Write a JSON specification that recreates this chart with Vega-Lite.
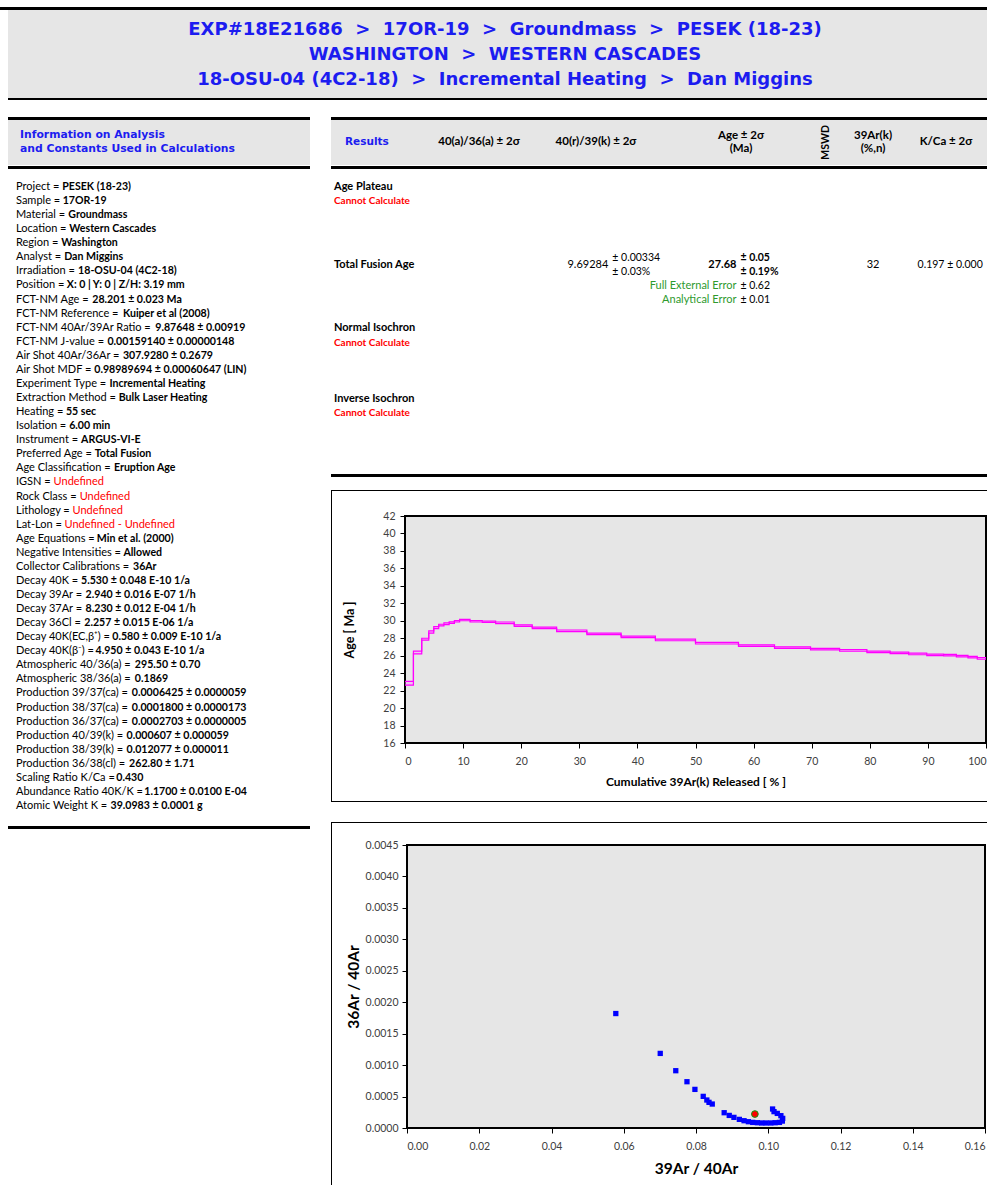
{
"$schema": "https://vega.github.io/schema/vega-lite/v6.json",
"padding": 0,
"background": "white",
"config": {
  "view": {"stroke": null},
  "concat": {"spacing": 0},
  "axis": {"domain": false, "grid": false, "tickColor": "#000000", "tickSize": 5, "tickWidth": 1, "labelFont": "Lato", "labelFontSize": 10.5, "labelColor": "#404040", "titleFont": "Lato", "titleFontWeight": "bold", "titleColor": "#000000", "labelOverlap": false}
},
"datasets": {
  "header": [
    {"line": 1, "t": "EXP#18E21686\u00a0 >\u00a0 17OR-19\u00a0 >\u00a0 Groundmass\u00a0 >\u00a0 PESEK (18-23)"},
    {"line": 2, "t": "WASHINGTON\u00a0 >\u00a0 WESTERN CASCADES"},
    {"line": 3, "t": "18-OSU-04 (4C2-18)\u00a0 >\u00a0 Incremental Heating\u00a0 >\u00a0 Dan Miggins"}
  ],
  "infohead": [
    {"line": 1, "t": "Information on Analysis"},
    {"line": 2, "t": "and Constants Used in Calculations"}
  ],
  "info": [
    {"line": 1, "label": "Project =", "value": "PESEK (18-23)"},
    {"line": 2, "label": "Sample =", "value": "17OR-19"},
    {"line": 3, "label": "Material =", "value": "Groundmass"},
    {"line": 4, "label": "Location =", "value": "Western Cascades"},
    {"line": 5, "label": "Region =", "value": "Washington"},
    {"line": 6, "label": "Analyst =", "value": "Dan Miggins"},
    {"line": 7, "label": "Irradiation =", "value": "18-OSU-04 (4C2-18)"},
    {"line": 8, "label": "Position =", "value": "X: 0 | Y: 0 | Z/H: 3.19 mm"},
    {"line": 9, "label": "FCT-NM Age =", "value": "28.201 ± 0.023 Ma"},
    {"line": 10, "label": "FCT-NM Reference =", "value": "Kuiper et al (2008)"},
    {"line": 11, "label": "FCT-NM 40Ar/39Ar Ratio =", "value": "9.87648 ± 0.00919"},
    {"line": 12, "label": "FCT-NM J-value =", "value": "0.00159140 ± 0.00000148"},
    {"line": 13, "label": "Air Shot 40Ar/36Ar =", "value": "307.9280 ± 0.2679"},
    {"line": 14, "label": "Air Shot MDF =", "value": "0.98989694 ± 0.00060647 (LIN)"},
    {"line": 15, "label": "Experiment Type =", "value": "Incremental Heating"},
    {"line": 16, "label": "Extraction Method =", "value": "Bulk Laser Heating"},
    {"line": 17, "label": "Heating =", "value": "55 sec"},
    {"line": 18, "label": "Isolation =", "value": "6.00 min"},
    {"line": 19, "label": "Instrument =", "value": "ARGUS-VI-E"},
    {"line": 20, "label": "Preferred Age =", "value": "Total Fusion"},
    {"line": 21, "label": "Age Classification =", "value": "Eruption Age"},
    {"line": 22, "label": "IGSN =", "value": "Undefined"},
    {"line": 23, "label": "Rock Class =", "value": "Undefined"},
    {"line": 24, "label": "Lithology =", "value": "Undefined"},
    {"line": 25, "label": "Lat-Lon =", "value": "Undefined - Undefined"},
    {"line": 26, "label": "Age Equations =", "value": "Min et al. (2000)"},
    {"line": 27, "label": "Negative Intensities =", "value": "Allowed"},
    {"line": 28, "label": "Collector Calibrations =", "value": "36Ar"},
    {"line": 29, "label": "Decay 40K =", "value": "5.530 ± 0.048 E-10 1/a"},
    {"line": 30, "label": "Decay 39Ar =", "value": "2.940 ± 0.016 E-07 1/h"},
    {"line": 31, "label": "Decay 37Ar =", "value": "8.230 ± 0.012 E-04 1/h"},
    {"line": 32, "label": "Decay 36Cl =", "value": "2.257 ± 0.015 E-06 1/a"},
    {"line": 33, "label": "Decay 40K(EC,β⁺) =", "value": "0.580 ± 0.009 E-10 1/a"},
    {"line": 34, "label": "Decay 40K(β⁻) =", "value": "4.950 ± 0.043 E-10 1/a"},
    {"line": 35, "label": "Atmospheric 40/36(a) =", "value": "295.50 ± 0.70"},
    {"line": 36, "label": "Atmospheric 38/36(a) =", "value": "0.1869"},
    {"line": 37, "label": "Production 39/37(ca) =", "value": "0.0006425 ± 0.0000059"},
    {"line": 38, "label": "Production 38/37(ca) =", "value": "0.0001800 ± 0.0000173"},
    {"line": 39, "label": "Production 36/37(ca) =", "value": "0.0002703 ± 0.0000005"},
    {"line": 40, "label": "Production 40/39(k) =", "value": "0.000607 ± 0.000059"},
    {"line": 41, "label": "Production 38/39(k) =", "value": "0.012077 ± 0.000011"},
    {"line": 42, "label": "Production 36/38(cl) =", "value": "262.80 ± 1.71"},
    {"line": 43, "label": "Scaling Ratio K/Ca =", "value": "0.430"},
    {"line": 44, "label": "Abundance Ratio 40K/K =", "value": "1.1700 ± 0.0100 E-04"},
    {"line": 45, "label": "Atomic Weight K =", "value": "39.0983 ± 0.0001 g"}
  ],
  "reshead": [
    {"c": 0, "r": 1, "t": "Results"},
    {"c": 1, "r": 1, "t": "40(a)/36(a) ± 2σ"},
    {"c": 2, "r": 1, "t": "40(r)/39(k) ± 2σ"},
    {"c": 3, "r": 0, "t": "Age ± 2σ"},
    {"c": 3, "r": 2, "t": "(Ma)"},
    {"c": 4, "r": 1, "t": "MSWD"},
    {"c": 5, "r": 0, "t": "39Ar(k)"},
    {"c": 5, "r": 2, "t": "(%,n)"},
    {"c": 6, "r": 1, "t": "K/Ca ± 2σ"}
  ],
  "results": [
    {"c": 0, "r": 0, "part": "section", "t": "Age Plateau"},
    {"c": 0, "r": 2, "part": "status", "t": "Cannot Calculate"},
    {"c": 0, "r": 11, "part": "section", "t": "Total Fusion Age"},
    {"c": 2, "r": 11, "part": "value", "t": "9.69284"},
    {"c": 2, "r": 10, "part": "err", "t": "± 0.00334"},
    {"c": 2, "r": 12, "part": "err", "t": "± 0.03%"},
    {"c": 3, "r": 11, "part": "age", "t": "27.68"},
    {"c": 3, "r": 10, "part": "ageerr", "t": "± 0.05"},
    {"c": 3, "r": 12, "part": "ageerr", "t": "± 0.19%"},
    {"c": 3, "r": 14, "part": "note", "t": "Full External Error"},
    {"c": 3, "r": 14, "part": "err", "t": "± 0.62"},
    {"c": 3, "r": 16, "part": "note", "t": "Analytical Error"},
    {"c": 3, "r": 16, "part": "err", "t": "± 0.01"},
    {"c": 5, "r": 11, "part": "count", "t": "32"},
    {"c": 6, "r": 11, "part": "kca", "t": "0.197 ± 0.000"},
    {"c": 0, "r": 20, "part": "section", "t": "Normal Isochron"},
    {"c": 0, "r": 22, "part": "status", "t": "Cannot Calculate"},
    {"c": 0, "r": 30, "part": "section", "t": "Inverse Isochron"},
    {"c": 0, "r": 32, "part": "status", "t": "Cannot Calculate"}
  ],
  "frame_spectrum": [
    {"xmin": 0, "xmax": 100, "ymin": 16, "ymax": 42}
  ],
  "frame_iso": [
    {"xmin": 0, "xmax": 0.16, "ymin": 0, "ymax": 0.0045}
  ],
  "spectrum": [
    {"cum": 0, "lo": 22.64, "hi": 23.05},
    {"cum": 1.45, "lo": 26.21, "hi": 26.52},
    {"cum": 2.88, "lo": 27.78, "hi": 28.0},
    {"cum": 4.09, "lo": 28.58, "hi": 28.85},
    {"cum": 4.95, "lo": 29.1, "hi": 29.34},
    {"cum": 5.8, "lo": 29.42, "hi": 29.6},
    {"cum": 6.7, "lo": 29.55, "hi": 29.75},
    {"cum": 7.6, "lo": 29.7, "hi": 29.88},
    {"cum": 8.5, "lo": 29.86, "hi": 30.02},
    {"cum": 9.4, "lo": 30.0, "hi": 30.17},
    {"cum": 11.2, "lo": 29.86, "hi": 30.02},
    {"cum": 13.3, "lo": 29.8, "hi": 29.96},
    {"cum": 15.6, "lo": 29.68, "hi": 29.86},
    {"cum": 18.8, "lo": 29.36, "hi": 29.54},
    {"cum": 21.9, "lo": 29.1, "hi": 29.28},
    {"cum": 26.1, "lo": 28.76, "hi": 28.94},
    {"cum": 31.3, "lo": 28.41, "hi": 28.59},
    {"cum": 37.2, "lo": 28.07, "hi": 28.25},
    {"cum": 43.1, "lo": 27.71, "hi": 27.89},
    {"cum": 50.0, "lo": 27.34, "hi": 27.52},
    {"cum": 57.4, "lo": 27.07, "hi": 27.25},
    {"cum": 63.6, "lo": 26.84, "hi": 27.02},
    {"cum": 69.8, "lo": 26.66, "hi": 26.84},
    {"cum": 74.8, "lo": 26.51, "hi": 26.69},
    {"cum": 79.5, "lo": 26.35, "hi": 26.53},
    {"cum": 83.5, "lo": 26.24, "hi": 26.42},
    {"cum": 86.7, "lo": 26.11, "hi": 26.29},
    {"cum": 89.8, "lo": 26.01, "hi": 26.19},
    {"cum": 92.7, "lo": 25.97, "hi": 26.15},
    {"cum": 94.9, "lo": 25.86, "hi": 26.04},
    {"cum": 96.9, "lo": 25.75, "hi": 25.93},
    {"cum": 98.5, "lo": 25.59, "hi": 25.77},
    {"cum": 100, "lo": 25.59, "hi": 25.77}
  ],
  "iso": [
    {"ar39_40": 0.0578, "ar36_40": 0.00182},
    {"ar39_40": 0.0701, "ar36_40": 0.001186},
    {"ar39_40": 0.0744, "ar36_40": 0.000911},
    {"ar39_40": 0.0775, "ar36_40": 0.000736},
    {"ar39_40": 0.0797, "ar36_40": 0.000614},
    {"ar39_40": 0.082, "ar36_40": 0.000503},
    {"ar39_40": 0.083, "ar36_40": 0.000445},
    {"ar39_40": 0.0836, "ar36_40": 0.000408},
    {"ar39_40": 0.0845, "ar36_40": 0.000381},
    {"ar39_40": 0.0878, "ar36_40": 0.000243},
    {"ar39_40": 0.0892, "ar36_40": 0.0002},
    {"ar39_40": 0.0905, "ar36_40": 0.000169},
    {"ar39_40": 0.092, "ar36_40": 0.000137},
    {"ar39_40": 0.0933, "ar36_40": 0.000116},
    {"ar39_40": 0.0945, "ar36_40": 0.0001},
    {"ar39_40": 0.0957, "ar36_40": 0.000089},
    {"ar39_40": 0.097, "ar36_40": 0.000084},
    {"ar39_40": 0.0982, "ar36_40": 0.00008},
    {"ar39_40": 0.0994, "ar36_40": 0.00008},
    {"ar39_40": 0.1007, "ar36_40": 0.00008},
    {"ar39_40": 0.1019, "ar36_40": 0.000084},
    {"ar39_40": 0.1031, "ar36_40": 0.000089},
    {"ar39_40": 0.1039, "ar36_40": 0.00011},
    {"ar39_40": 0.104, "ar36_40": 0.000153},
    {"ar39_40": 0.1035, "ar36_40": 0.000196},
    {"ar39_40": 0.1025, "ar36_40": 0.000232},
    {"ar39_40": 0.1016, "ar36_40": 0.00026},
    {"ar39_40": 0.1012, "ar36_40": 0.000302}
  ],
  "fusion": [
    {"ar39_40": 0.0963, "ar36_40": 0.000222}
  ]
},
"spacing": 0,
"vconcat": [
  {"width": 987, "height": 7, "view": {"fill": "#ffffff", "stroke": null}, "data": {"values": []}, "mark": "rect", "encoding": {}},
  {"width": 987, "height": 3, "view": {"fill": "#000000", "stroke": null}, "data": {"values": []}, "mark": "rect", "encoding": {}},
  {"spacing": 0, "hconcat": [
    {"width": 8, "height": 90, "view": {"fill": "#ffffff", "stroke": null}, "data": {"values": []}, "mark": "rect", "encoding": {}},
    {"spacing": 0, "vconcat": [
      {"width": 979, "height": 88, "view": {"fill": "#e6e6e6", "stroke": null},
       "data": {"name": "header"},
       "mark": {"type": "text", "align": "center", "baseline": "middle", "dx": 7.5, "font": "DejaVu Sans", "fontWeight": "bold", "fontSize": 18, "fill": "#1c1cf0"},
       "encoding": {
         "y": {"field": "line", "type": "quantitative", "scale": {"domain": [1, 3], "range": [19.5, 70], "nice": false, "zero": false}, "axis": null},
         "text": {"field": "t"}
       }},
      {"width": 979, "height": 2, "view": {"fill": "#000000", "stroke": null}, "data": {"values": []}, "mark": "rect", "encoding": {}}
    ]}
  ]},
  {"spacing": 0, "hconcat": [
    {"width": 8, "height": 1085, "view": {"fill": "#ffffff", "stroke": null}, "data": {"values": []}, "mark": "rect", "encoding": {}},
    {"spacing": 0, "vconcat": [
      {"width": 302, "height": 17, "view": {"fill": "#ffffff", "stroke": null}, "data": {"values": []}, "mark": "rect", "encoding": {}},
      {"width": 302, "height": 3, "view": {"fill": "#000000", "stroke": null}, "data": {"values": []}, "mark": "rect", "encoding": {}},
      {"width": 302, "height": 45, "view": {"fill": "#e6e6e6", "stroke": null},
       "data": {"name": "infohead"},
       "mark": {"type": "text", "align": "left", "baseline": "middle", "dx": 12, "font": "DejaVu Sans", "fontWeight": "bold", "fontSize": 10.8, "fill": "#1c1cf0"},
       "encoding": {
         "x": {"datum": 0, "type": "quantitative", "scale": {"domain": [0, 1]}, "axis": null},
         "y": {"field": "line", "type": "quantitative", "scale": {"domain": [1, 2], "range": [15, 29.3], "nice": false, "zero": false}, "axis": null},
         "text": {"field": "t"}
       }},
      {"width": 302, "height": 1, "view": {"fill": "#ffffff", "stroke": null}, "data": {"values": []}, "mark": "rect", "encoding": {}},
      {"width": 302, "height": 3, "view": {"fill": "#000000", "stroke": null}, "data": {"values": []}, "mark": "rect", "encoding": {}},
      {"width": 302, "height": 657, "view": {"fill": "#ffffff", "stroke": null},
       "data": {"name": "info"},
       "encoding": {
         "x": {"datum": 0, "type": "quantitative", "scale": {"domain": [0, 1]}, "axis": null},
         "y": {"field": "line", "type": "quantitative", "scale": {"domain": [1, 45], "range": [18, 637], "nice": false, "zero": false}, "axis": null}
       },
       "layer": [
         {"mark": {"type": "text", "align": "left", "baseline": "middle", "dx": 8, "font": "Lato", "fontSize": 11, "fill": "#000000"},
          "encoding": {"text": {"field": "label"}}},
         {"transform": [{"filter": "indexof(datum.value, 'Undefined') < 0"}],
          "mark": {"type": "text", "align": "left", "baseline": "middle", "font": "Lato", "fontWeight": "bold", "fontSize": 10.6, "fill": "#000000",
                   "dx": {"expr": "8 + 0.0057*(1350*length(replace(datum.label,regexp('[^ACV]','g'),'')) + 1505*length(replace(datum.label,regexp('[^DHN]','g'),'')) + 1442*length(replace(datum.label,regexp('[^GU]','g'),'')) + 1614*length(replace(datum.label,regexp('[^OQ]','g'),'')) + 1130*length(replace(datum.label,regexp('[^EFPTZ]','g'),'')) + 1265*length(replace(datum.label,regexp('[^BKRXY]','g'),'')) + 576*length(replace(datum.label,regexp('[^I]','g'),'')) + 780*length(replace(datum.label,regexp('[^J]','g'),'')) + 976*length(replace(datum.label,regexp('[^L]','g'),'')) + 1826*length(replace(datum.label,regexp('[^M]','g'),'')) + 2040*length(replace(datum.label,regexp('[^W]','g'),'')) + 1036*length(replace(datum.label,regexp('[^S]','g'),'')) + 1075*length(replace(datum.label,regexp('[^bdhnopqu]','g'),'')) + 990*length(replace(datum.label,regexp('[^egkvxy]','g'),'')) + 960*length(replace(datum.label,regexp('[^acz]','g'),'')) + 490*length(replace(datum.label,regexp('[^ijl]','g'),'')) + 720*length(replace(datum.label,regexp('[^frt]','g'),'')) + 830*length(replace(datum.label,regexp('[^s]','g'),'')) + 1608*length(replace(datum.label,regexp('[^m]','g'),'')) + 1494*length(replace(datum.label,regexp('[^w]','g'),'')) + 1160*length(replace(datum.label,regexp('[^0-9=]','g'),'')) + 386*length(replace(datum.label,regexp('[^ ]','g'),'')) + 620*length(replace(datum.label,regexp('[^()]','g'),'')) + 700*length(replace(datum.label,regexp('[^/-]','g'),'')) + 460*length(replace(datum.label,regexp('[^.,:]','g'),'')) + 650*length(replace(datum.label,regexp('[A-Za-z0-9=() /.,:-]','g'),'')) + 486)"}},
          "encoding": {"text": {"field": "value"}}},
         {"transform": [{"filter": "indexof(datum.value, 'Undefined') >= 0"}],
          "mark": {"type": "text", "align": "left", "baseline": "middle", "font": "Lato", "fontSize": 11, "fill": "#ff0000",
                   "dx": {"expr": "8 + 0.0057*(1350*length(replace(datum.label,regexp('[^ACV]','g'),'')) + 1505*length(replace(datum.label,regexp('[^DHN]','g'),'')) + 1442*length(replace(datum.label,regexp('[^GU]','g'),'')) + 1614*length(replace(datum.label,regexp('[^OQ]','g'),'')) + 1130*length(replace(datum.label,regexp('[^EFPTZ]','g'),'')) + 1265*length(replace(datum.label,regexp('[^BKRXY]','g'),'')) + 576*length(replace(datum.label,regexp('[^I]','g'),'')) + 780*length(replace(datum.label,regexp('[^J]','g'),'')) + 976*length(replace(datum.label,regexp('[^L]','g'),'')) + 1826*length(replace(datum.label,regexp('[^M]','g'),'')) + 2040*length(replace(datum.label,regexp('[^W]','g'),'')) + 1036*length(replace(datum.label,regexp('[^S]','g'),'')) + 1075*length(replace(datum.label,regexp('[^bdhnopqu]','g'),'')) + 990*length(replace(datum.label,regexp('[^egkvxy]','g'),'')) + 960*length(replace(datum.label,regexp('[^acz]','g'),'')) + 490*length(replace(datum.label,regexp('[^ijl]','g'),'')) + 720*length(replace(datum.label,regexp('[^frt]','g'),'')) + 830*length(replace(datum.label,regexp('[^s]','g'),'')) + 1608*length(replace(datum.label,regexp('[^m]','g'),'')) + 1494*length(replace(datum.label,regexp('[^w]','g'),'')) + 1160*length(replace(datum.label,regexp('[^0-9=]','g'),'')) + 386*length(replace(datum.label,regexp('[^ ]','g'),'')) + 620*length(replace(datum.label,regexp('[^()]','g'),'')) + 700*length(replace(datum.label,regexp('[^/-]','g'),'')) + 460*length(replace(datum.label,regexp('[^.,:]','g'),'')) + 650*length(replace(datum.label,regexp('[A-Za-z0-9=() /.,:-]','g'),'')) + 486)"}},
          "encoding": {"text": {"field": "value"}}}
       ]},
      {"width": 302, "height": 3, "view": {"fill": "#000000", "stroke": null}, "data": {"values": []}, "mark": "rect", "encoding": {}}
    ]},
    {"width": 21, "height": 1085, "view": {"fill": "#ffffff", "stroke": null}, "data": {"values": []}, "mark": "rect", "encoding": {}},
    {"spacing": 0, "vconcat": [
      {"width": 656, "height": 17, "view": {"fill": "#ffffff", "stroke": null}, "data": {"values": []}, "mark": "rect", "encoding": {}},
      {"width": 656, "height": 3, "view": {"fill": "#000000", "stroke": null}, "data": {"values": []}, "mark": "rect", "encoding": {}},
      {"width": 656, "height": 45, "view": {"fill": "#e6e6e6", "stroke": null},
       "data": {"name": "reshead"},
       "encoding": {
         "x": {"field": "c", "type": "quantitative", "scale": {"domain": [0, 1, 2, 3, 4, 5, 6], "range": [14, 148, 265, 410, 495, 542, 615], "nice": false, "zero": false}, "axis": null},
         "y": {"field": "r", "type": "quantitative", "scale": {"domain": [0, 2], "range": [15.7, 29], "nice": false, "zero": false}, "axis": null},
         "text": {"field": "t"}
       },
       "layer": [
         {"transform": [{"filter": "datum.c == 0"}],
          "mark": {"type": "text", "align": "left", "baseline": "middle", "font": "DejaVu Sans", "fontWeight": "bold", "fontSize": 10.5, "fill": "#1c1cf0"}},
         {"transform": [{"filter": "datum.c == 4"}],
          "mark": {"type": "text", "align": "center", "baseline": "middle", "angle": 270, "font": "Lato", "fontWeight": "bold", "fontSize": 10.5, "fill": "#000000"}},
         {"transform": [{"filter": "datum.c != 0 && datum.c != 4"}],
          "mark": {"type": "text", "align": "center", "baseline": "middle", "font": "Lato", "fontWeight": "bold", "fontSize": 11.5, "fill": "#000000"}}
       ]},
      {"width": 656, "height": 1, "view": {"fill": "#ffffff", "stroke": null}, "data": {"values": []}, "mark": "rect", "encoding": {}},
      {"width": 656, "height": 3, "view": {"fill": "#000000", "stroke": null}, "data": {"values": []}, "mark": "rect", "encoding": {}},
      {"width": 656, "height": 305, "view": {"fill": "#ffffff", "stroke": null},
       "data": {"name": "results"},
       "encoding": {
         "x": {"field": "c", "type": "quantitative", "scale": {"domain": [0, 2, 3, 5, 6], "range": [3, 279.3, 407.5, 542, 586.6], "nice": false, "zero": false}, "axis": null},
         "y": {"field": "r", "type": "quantitative", "scale": {"domain": [0, 32], "range": [18, 244.3], "nice": false, "zero": false}, "axis": null},
         "text": {"field": "t"}
       },
       "layer": [
         {"transform": [{"filter": "datum.part == 'section'"}],
          "mark": {"type": "text", "align": "left", "baseline": "middle", "font": "Lato", "fontWeight": "bold", "fontSize": 11, "fill": "#000000"}},
         {"transform": [{"filter": "datum.part == 'status'"}],
          "mark": {"type": "text", "align": "left", "baseline": "middle", "font": "Lato", "fontWeight": "bold", "fontSize": 10, "fill": "#ff0000"}},
         {"transform": [{"filter": "datum.part == 'value'"}],
          "mark": {"type": "text", "align": "right", "baseline": "middle", "dx": -2, "font": "Lato", "fontSize": 11, "fill": "#000000"}},
         {"transform": [{"filter": "datum.part == 'age'"}],
          "mark": {"type": "text", "align": "right", "baseline": "middle", "dx": -2, "font": "Lato", "fontWeight": "bold", "fontSize": 11, "fill": "#000000"}},
         {"transform": [{"filter": "datum.part == 'err'"}],
          "mark": {"type": "text", "align": "left", "baseline": "middle", "dx": 2, "font": "Lato", "fontSize": 10.5, "fill": "#000000"}},
         {"transform": [{"filter": "datum.part == 'ageerr'"}],
          "mark": {"type": "text", "align": "left", "baseline": "middle", "dx": 2, "font": "Lato", "fontWeight": "bold", "fontSize": 10.5, "fill": "#000000"}},
         {"transform": [{"filter": "datum.part == 'note'"}],
          "mark": {"type": "text", "align": "right", "baseline": "middle", "dx": -2, "font": "Lato", "fontSize": 11, "fill": "#2e9a2e"}},
         {"transform": [{"filter": "datum.part == 'count'"}],
          "mark": {"type": "text", "align": "center", "baseline": "middle", "font": "Lato", "fontSize": 11, "fill": "#000000"}},
         {"transform": [{"filter": "datum.part == 'kca'"}],
          "mark": {"type": "text", "align": "left", "baseline": "middle", "font": "Lato", "fontSize": 10.5, "fill": "#000000"}}
       ]},
      {"width": 656, "height": 3, "view": {"fill": "#000000", "stroke": null}, "data": {"values": []}, "mark": "rect", "encoding": {}},
      {"width": 656, "height": 13, "view": {"fill": "#ffffff", "stroke": null}, "data": {"values": []}, "mark": "rect", "encoding": {}},
      {"spacing": 0, "vconcat": [
        {"width": 656, "height": 1, "view": {"fill": "#000000", "stroke": null}, "data": {"values": []}, "mark": "rect", "encoding": {}},
        {"spacing": 0, "hconcat": [
          {"width": 1, "height": 310, "view": {"fill": "#000000", "stroke": null}, "data": {"values": []}, "mark": "rect", "encoding": {}},
          {"width": 655, "height": 310, "view": {"fill": "#ffffff", "stroke": null},
           "layer": [
             {"data": {"name": "frame_spectrum"},
              "mark": {"type": "rect", "fill": "#e6e6e6", "stroke": "#000000", "strokeWidth": 2},
              "encoding": {
                "x": {"field": "xmin", "type": "quantitative", "scale": {"domain": [0, 100], "range": [73, 654], "nice": false, "zero": false},
                      "axis": {"title": "Cumulative 39Ar(k) Released [ % ]", "values": [0, 10, 20, 30, 40, 50, 60, 70, 80, 90, 100], "labelFlush": true, "labelPadding": 8, "titleFontSize": 12, "titlePadding": 10, "offset": -58}},
                "x2": {"field": "xmax"},
                "y": {"field": "ymin", "type": "quantitative", "scale": {"domain": [16, 42], "range": [252, 25], "nice": false, "zero": false},
                      "axis": {"title": "Age [ Ma ]", "values": [16, 18, 20, 22, 24, 26, 28, 30, 32, 34, 36, 38, 40, 42], "labelPadding": 5, "titleFontSize": 12.5, "titlePadding": 26, "offset": -73}},
                "y2": {"field": "ymax"}
              }},
             {"data": {"name": "spectrum"},
              "mark": {"type": "area", "interpolate": "step-after", "fill": "#ff99ff", "fillOpacity": 0.45},
              "encoding": {
                "x": {"field": "cum", "type": "quantitative", "scale": {"domain": [0, 100], "range": [73, 654], "nice": false, "zero": false},
                      "axis": {"title": "Cumulative 39Ar(k) Released [ % ]", "values": [0, 10, 20, 30, 40, 50, 60, 70, 80, 90, 100], "labelFlush": true, "labelPadding": 8, "titleFontSize": 12, "titlePadding": 10, "offset": -58}},
                "y": {"field": "lo", "type": "quantitative", "scale": {"domain": [16, 42], "range": [252, 25], "nice": false, "zero": false},
                      "axis": {"title": "Age [ Ma ]", "values": [16, 18, 20, 22, 24, 26, 28, 30, 32, 34, 36, 38, 40, 42], "labelPadding": 5, "titleFontSize": 12.5, "titlePadding": 26, "offset": -73}},
                "y2": {"field": "hi"}
              }},
             {"data": {"name": "spectrum"},
              "mark": {"type": "line", "interpolate": "step-after", "color": "#ff00ff", "strokeWidth": 1.2},
              "encoding": {
                "x": {"field": "cum", "type": "quantitative", "scale": {"domain": [0, 100], "range": [73, 654], "nice": false, "zero": false},
                      "axis": {"title": "Cumulative 39Ar(k) Released [ % ]", "values": [0, 10, 20, 30, 40, 50, 60, 70, 80, 90, 100], "labelFlush": true, "labelPadding": 8, "titleFontSize": 12, "titlePadding": 10, "offset": -58}},
                "y": {"field": "hi", "type": "quantitative", "scale": {"domain": [16, 42], "range": [252, 25], "nice": false, "zero": false},
                      "axis": {"title": "Age [ Ma ]", "values": [16, 18, 20, 22, 24, 26, 28, 30, 32, 34, 36, 38, 40, 42], "labelPadding": 5, "titleFontSize": 12.5, "titlePadding": 26, "offset": -73}}
              }},
             {"data": {"name": "spectrum"},
              "mark": {"type": "line", "interpolate": "step-after", "color": "#ff00ff", "strokeWidth": 1.2},
              "encoding": {
                "x": {"field": "cum", "type": "quantitative", "scale": {"domain": [0, 100], "range": [73, 654], "nice": false, "zero": false},
                      "axis": {"title": "Cumulative 39Ar(k) Released [ % ]", "values": [0, 10, 20, 30, 40, 50, 60, 70, 80, 90, 100], "labelFlush": true, "labelPadding": 8, "titleFontSize": 12, "titlePadding": 10, "offset": -58}},
                "y": {"field": "lo", "type": "quantitative", "scale": {"domain": [16, 42], "range": [252, 25], "nice": false, "zero": false},
                      "axis": {"title": "Age [ Ma ]", "values": [16, 18, 20, 22, 24, 26, 28, 30, 32, 34, 36, 38, 40, 42], "labelPadding": 5, "titleFontSize": 12.5, "titlePadding": 26, "offset": -73}}
              }}
           ]}
        ]},
        {"width": 656, "height": 1, "view": {"fill": "#000000", "stroke": null}, "data": {"values": []}, "mark": "rect", "encoding": {}}
      ]},
      {"width": 656, "height": 20, "view": {"fill": "#ffffff", "stroke": null}, "data": {"values": []}, "mark": "rect", "encoding": {}},
      {"spacing": 0, "vconcat": [
        {"width": 656, "height": 1, "view": {"fill": "#000000", "stroke": null}, "data": {"values": []}, "mark": "rect", "encoding": {}},
        {"spacing": 0, "hconcat": [
          {"width": 1, "height": 362, "view": {"fill": "#000000", "stroke": null}, "data": {"values": []}, "mark": "rect", "encoding": {}},
          {"width": 655, "height": 362, "view": {"fill": "#ffffff", "stroke": null},
           "layer": [
             {"data": {"name": "frame_iso"},
              "mark": {"type": "rect", "fill": "#e6e6e6", "stroke": "#000000", "strokeWidth": 2},
              "encoding": {
                "x": {"field": "xmin", "type": "quantitative", "scale": {"domain": [0, 0.16], "range": [75, 653], "nice": false, "zero": false},
                      "axis": {"title": "39Ar / 40Ar", "values": [0, 0.02, 0.04, 0.06, 0.08, 0.1, 0.12, 0.14, 0.16], "format": ".2f", "labelFlush": true, "labelPadding": 8, "titleFontSize": 15.5, "titlePadding": 10, "offset": -57}},
                "x2": {"field": "xmax"},
                "y": {"field": "ymin", "type": "quantitative", "scale": {"domain": [0, 0.0045], "range": [305, 22], "nice": false, "zero": false},
                      "axis": {"title": "36Ar / 40Ar", "values": [0, 0.0005, 0.001, 0.0015, 0.002, 0.0025, 0.003, 0.0035, 0.004, 0.0045], "format": ".4f", "labelPadding": 4, "titleFontSize": 15.5, "titlePadding": 4, "offset": -75}},
                "y2": {"field": "ymax"}
              }},
             {"data": {"name": "iso"},
              "mark": {"type": "square", "filled": true, "color": "#0000ff", "size": 28, "opacity": 1},
              "encoding": {
                "x": {"field": "ar39_40", "type": "quantitative", "scale": {"domain": [0, 0.16], "range": [75, 653], "nice": false, "zero": false},
                      "axis": {"title": "39Ar / 40Ar", "values": [0, 0.02, 0.04, 0.06, 0.08, 0.1, 0.12, 0.14, 0.16], "format": ".2f", "labelFlush": true, "labelPadding": 8, "titleFontSize": 15.5, "titlePadding": 10, "offset": -57}},
                "y": {"field": "ar36_40", "type": "quantitative", "scale": {"domain": [0, 0.0045], "range": [305, 22], "nice": false, "zero": false},
                      "axis": {"title": "36Ar / 40Ar", "values": [0, 0.0005, 0.001, 0.0015, 0.002, 0.0025, 0.003, 0.0035, 0.004, 0.0045], "format": ".4f", "labelPadding": 4, "titleFontSize": 15.5, "titlePadding": 4, "offset": -75}}
              }},
             {"data": {"name": "fusion"},
              "mark": {"type": "circle", "filled": true, "fill": "#ff0000", "stroke": "#0a9a0a", "strokeWidth": 1, "size": 45, "opacity": 1},
              "encoding": {
                "x": {"field": "ar39_40", "type": "quantitative", "scale": {"domain": [0, 0.16], "range": [75, 653], "nice": false, "zero": false},
                      "axis": {"title": "39Ar / 40Ar", "values": [0, 0.02, 0.04, 0.06, 0.08, 0.1, 0.12, 0.14, 0.16], "format": ".2f", "labelFlush": true, "labelPadding": 8, "titleFontSize": 15.5, "titlePadding": 10, "offset": -57}},
                "y": {"field": "ar36_40", "type": "quantitative", "scale": {"domain": [0, 0.0045], "range": [305, 22], "nice": false, "zero": false},
                      "axis": {"title": "36Ar / 40Ar", "values": [0, 0.0005, 0.001, 0.0015, 0.002, 0.0025, 0.003, 0.0035, 0.004, 0.0045], "format": ".4f", "labelPadding": 4, "titleFontSize": 15.5, "titlePadding": 4, "offset": -75}}
              }}
           ]}
        ]}
      ]}
    ]}
  ]}
]
}
